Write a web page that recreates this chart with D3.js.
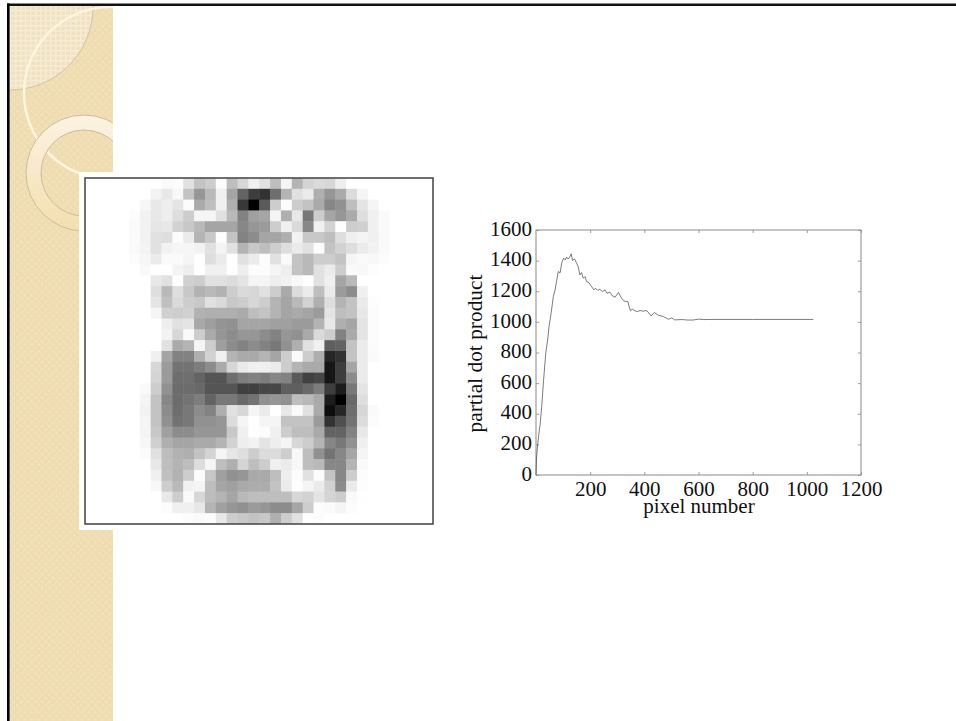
<!DOCTYPE html>
<html>
<head>
<meta charset="utf-8">
<script src="https://cdnjs.cloudflare.com/ajax/libs/d3/7.8.5/d3.min.js"></script>
<style>
html, body { margin: 0; padding: 0; background: #fff; overflow: hidden; }
svg { display: block; }
.plot text { font-family: "Liberation Serif", serif; fill: #111; }
</style>
</head>
<body>
<div id="slide"></div>
<script>
// Configuration
var width = 956, height = 721;

// Weight image, grey levels per row (0 = black, 255 = white)
var cells = [
[255,255,255,255,255,255,255,250,252,225,195,205,252,190,215,240,225,190,245,180,212,218,215,238,255,255,255,255,255,255,255,255],
[255,255,255,255,255,255,243,232,248,195,150,185,240,165,100,60,50,110,180,225,235,175,150,170,220,245,255,255,255,255,255,255],
[255,255,255,255,255,247,232,238,228,252,170,190,240,175,55,0,90,205,252,205,195,170,135,145,190,228,245,255,255,255,255,255],
[255,255,255,255,252,242,232,238,222,205,245,245,225,185,130,160,165,245,175,232,120,205,165,150,170,222,240,250,255,255,255,255],
[255,255,255,255,250,242,230,232,210,200,185,165,165,165,135,150,155,205,240,218,135,240,210,254,205,208,240,250,255,255,255,255],
[255,255,255,255,251,242,225,222,252,235,180,200,253,195,130,140,165,165,175,242,200,200,190,222,240,244,240,250,255,255,255,255],
[255,255,255,255,250,244,225,242,246,246,242,225,244,225,180,200,190,205,222,235,225,252,195,210,222,235,242,250,255,255,255,255],
[255,255,255,255,252,246,235,250,250,245,254,222,235,254,225,235,252,225,250,195,185,205,205,195,245,250,248,252,255,255,255,255],
[255,255,255,255,255,249,255,255,244,238,255,240,240,254,238,252,252,245,238,195,185,225,235,205,250,248,253,255,255,255,255,255],
[255,255,255,255,255,255,232,225,254,208,205,225,225,220,228,245,245,238,242,248,255,225,240,165,185,255,255,255,255,255,255,255],
[255,255,255,255,255,255,222,185,222,200,178,185,178,205,218,215,225,205,170,220,235,190,235,155,140,240,255,255,255,255,255,255],
[255,255,255,255,255,255,228,192,218,205,200,225,218,200,205,215,205,180,165,185,210,175,222,180,195,235,253,255,255,255,255,255],
[255,255,255,255,255,255,245,208,205,208,178,175,175,175,170,190,195,180,165,170,165,155,228,190,195,232,252,255,255,255,255,255],
[255,255,255,255,255,255,255,238,225,228,168,158,148,145,165,165,165,160,160,155,155,180,232,175,165,228,252,255,255,255,255,255],
[255,255,255,255,255,255,255,243,215,250,205,170,150,140,150,150,140,130,150,145,170,218,205,130,170,228,252,255,255,255,255,255],
[255,255,255,255,255,255,255,225,170,180,245,205,158,140,130,140,130,120,145,175,225,240,95,100,195,235,252,255,255,255,255,255],
[255,255,255,255,255,255,240,165,130,130,175,210,240,180,170,170,180,165,205,250,205,175,40,50,195,235,250,255,255,255,255,255],
[255,255,255,255,255,255,215,155,115,115,125,140,170,215,235,240,240,235,205,180,170,170,20,60,165,235,255,255,255,255,255,255],
[255,255,255,255,255,255,212,155,110,110,100,85,85,110,125,130,125,135,130,90,65,70,25,60,140,235,255,255,255,255,255,255],
[255,255,255,255,255,250,205,145,108,108,105,85,85,85,65,65,70,70,95,95,105,125,60,30,120,228,255,255,255,255,255,255],
[255,255,255,255,255,245,195,135,108,115,125,100,120,120,105,115,145,150,145,190,185,170,30,0,105,222,255,255,255,255,255,255],
[255,255,255,255,255,242,195,140,110,120,140,130,175,225,215,245,235,255,232,250,225,170,8,40,110,215,250,255,255,255,255,255],
[255,255,255,255,255,245,195,145,115,120,145,145,150,220,245,255,245,245,195,195,195,155,50,80,115,220,252,255,255,255,255,255],
[255,255,255,255,255,245,200,160,140,140,150,150,150,200,240,255,252,240,205,190,190,170,100,100,130,232,255,255,255,255,255,255],
[255,255,255,255,255,247,208,175,165,165,170,170,180,210,238,243,228,238,245,215,205,180,135,120,145,240,255,255,255,255,255,255],
[255,255,255,255,255,252,225,190,178,175,195,212,245,230,222,205,220,220,205,248,190,145,115,135,165,245,255,255,255,255,255,255],
[255,255,255,255,255,255,232,190,180,190,220,245,190,175,212,190,205,240,235,248,190,185,135,135,180,250,255,255,255,255,255,255],
[255,255,255,255,255,255,240,192,178,205,252,200,160,145,150,170,170,190,238,252,225,252,195,135,205,252,255,255,255,255,255,255],
[255,255,255,255,255,255,248,205,185,242,245,190,165,160,170,172,172,195,235,254,245,235,210,140,235,253,255,255,255,255,255,255],
[255,255,255,255,255,255,255,232,205,250,215,188,180,165,185,190,190,190,190,215,210,228,212,205,250,254,255,255,255,255,255,255],
[255,255,255,255,255,255,255,252,240,240,232,180,160,150,145,155,150,140,140,165,205,253,250,245,252,255,255,255,255,255,255,255],
[255,255,255,255,255,255,255,255,255,252,250,252,232,205,200,195,200,175,205,225,254,252,255,255,255,255,255,255,255,255,255,255]
];

// Partial dot product curve
var pixelNumber = [0,2,6,10,15,21,28,36,43,48,56,64,70,76,82,89,95,102,108,113,119,125,130,135,142,150,156,162,168,175,181,187,196,205,214,220,228,236,245,255,262,273,282,292,298,304,314,323,331,339,348,356,366,375,384,396,409,425,437,452,470,489,501,512,540,560,580,600,620,650,800,1024];
var dotProduct = [0,110,196,262,327,446,620,795,882,969,1060,1166,1205,1264,1329,1320,1384,1416,1405,1423,1410,1425,1444,1401,1412,1383,1360,1307,1322,1285,1296,1263,1255,1231,1209,1220,1205,1213,1198,1209,1187,1194,1170,1161,1176,1192,1161,1139,1133,1133,1074,1083,1072,1067,1074,1070,1074,1039,1061,1043,1035,1017,1026,1013,1015,1012,1012,1018,1015,1016,1016,1016];

var xTicks = [200,400,600,800,1000,1200];
var yTicks = [0,200,400,600,800,1000,1200,1400,1600];

var svg = d3.select("#slide").append("svg")
    .attr("width", width)
    .attr("height", height);
var defs = svg.append("defs");

drawBackground();
drawImage();
drawPlot();

/**
 * Slide template: tan side strip with circles and black edge lines
 */
function drawBackground() {
    var check = defs.append("pattern")
        .attr("id", "check")
        .attr("width", 5)
        .attr("height", 5)
        .attr("patternUnits", "userSpaceOnUse")
        .attr("patternTransform", "rotate(45)");
    check.append("rect").attr("width", 5).attr("height", 5).attr("fill", "#efdcb0");
    check.append("rect").attr("width", 2.5).attr("height", 2.5).attr("fill", "#f2e2bd");

    var grid = defs.append("pattern")
        .attr("id", "grid")
        .attr("width", 5)
        .attr("height", 5)
        .attr("patternUnits", "userSpaceOnUse");
    grid.append("rect").attr("width", 5).attr("height", 5).attr("fill", "#f0e1bf");
    grid.append("rect").attr("width", 5).attr("height", 1.5).attr("fill", "#f6ecd6");
    grid.append("rect").attr("width", 1.5).attr("height", 5).attr("fill", "#f6ecd6");

    var ringFill = defs.append("linearGradient")
        .attr("id", "ringFill")
        .attr("x1", 0).attr("y1", 0)
        .attr("x2", 0).attr("y2", 1);
    ringFill.append("stop").attr("offset", "0%").attr("stop-color", "#fbf3e2");
    ringFill.append("stop").attr("offset", "100%").attr("stop-color", "#f3dfae");

    defs.append("clipPath").attr("id", "strip")
        .append("rect")
        .attr("x", 9).attr("y", 6)
        .attr("width", 104).attr("height", height - 6);

    var strip = svg.append("g").attr("clip-path", "url(#strip)");
    strip.append("rect")
        .attr("x", 9).attr("y", 6)
        .attr("width", 104).attr("height", height - 6)
        .attr("fill", "url(#check)");
    strip.append("circle")
        .attr("cx", 10).attr("cy", 7).attr("r", 83)
        .attr("fill", "url(#grid)")
        .attr("stroke", "#d3c4a2")
        .attr("stroke-width", 1);
    strip.append("circle")
        .attr("cx", 110).attr("cy", 93).attr("r", 86)
        .attr("fill", "none")
        .attr("stroke", "#fdf6df")
        .attr("stroke-width", 2.5);
    var ring = d3.arc()
        .innerRadius(43)
        .outerRadius(58)
        .startAngle(0)
        .endAngle(2 * Math.PI);
    strip.append("path")
        .attr("d", ring())
        .attr("transform", "translate(84,173)")
        .attr("fill", "url(#ringFill)")
        .attr("stroke", "#cbbd9b")
        .attr("stroke-width", 1);

    svg.append("rect").attr("x", 7).attr("y", 3.5).attr("width", width - 7).attr("height", 2.5).attr("fill", "#111");
    svg.append("rect").attr("x", 7).attr("y", 3.5).attr("width", 2.6).attr("height", height - 3.5).attr("fill", "#000");
}

/**
 * Grey weight image inside a white mat and dark frame
 */
function drawImage() {
    var x0 = 85.5, x1 = 433, y0 = 178, y1 = 524;
    var idx = d3.range(32);
    var col = d3.scaleBand().domain(idx).range([x0, x1]);
    var row = d3.scaleBand().domain(idx).range([y0, y1]);
    var grey = d3.scaleLinear().domain([0, 255]).range(["#000000", "#ffffff"]);

    // The original is a scaled bitmap, so cell edges are a little soft
    defs.append("filter").attr("id", "soft")
        .append("feGaussianBlur")
        .attr("stdDeviation", 0.7);
    defs.append("clipPath").attr("id", "frameClip")
        .append("rect")
        .attr("x", x0).attr("y", y0)
        .attr("width", x1 - x0).attr("height", y1 - y0);

    svg.append("rect")
        .attr("x", 79).attr("y", 172)
        .attr("width", 360).attr("height", 358)
        .attr("fill", "#fff");

    var rowG = svg.append("g").attr("clip-path", "url(#frameClip)")
        .append("g").attr("id", "weights").attr("filter", "url(#soft)")
        .selectAll("g")
        .data(cells)
        .enter()
        .append("g");

    rowG.selectAll("rect")
        .data(function(d, i) {
            return d.map(function(v, j) { return {v: v, r: i, c: j}; });
        })
        .enter()
        .append("rect")
        .attr("x", function(d) { return col(d.c); })
        .attr("y", function(d) { return row(d.r); })
        .attr("width", col.bandwidth() + 0.5)
        .attr("height", row.bandwidth() + 0.5)
        .attr("fill", function(d) { return grey(d.v); });

    svg.append("rect")
        .attr("x", x0 - 0.5).attr("y", y0)
        .attr("width", x1 - x0 + 0.5).attr("height", y1 - y0)
        .attr("fill", "none")
        .attr("stroke", "#4d4d4d")
        .attr("stroke-width", 1.6);
}

/**
 * Line plot with inward ticks on all four sides
 */
function drawPlot() {
    var left = 536, right = 861, top = 230, bottom = 475;
    var x = d3.scaleLinear().domain([0, 1200]).range([left, right]);
    var y = d3.scaleLinear().domain([0, 1600]).range([bottom, top]);
    var plot = svg.append("g").attr("class", "plot");

    plot.append("rect")
        .attr("x", left).attr("y", top)
        .attr("width", right - left).attr("height", bottom - top)
        .attr("fill", "none")
        .attr("stroke", "#8a8a8a")
        .attr("stroke-width", 1);

    var xAxis = plot.append("g")
        .attr("transform", "translate(0," + bottom + ")")
        .call(d3.axisBottom(x).tickValues(xTicks).tickSize(-3).tickPadding(6).tickFormat(d3.format("d")));
    var yAxis = plot.append("g")
        .attr("transform", "translate(" + left + ",0)")
        .call(d3.axisLeft(y).tickValues(yTicks).tickSize(-3).tickPadding(4).tickFormat(d3.format("d")));
    plot.append("g")
        .attr("transform", "translate(0," + top + ")")
        .call(d3.axisTop(x).tickValues(xTicks).tickSize(-3).tickFormat(""));
    plot.append("g")
        .attr("transform", "translate(" + right + ",0)")
        .call(d3.axisRight(y).tickValues(yTicks).tickSize(-3).tickFormat(""));

    plot.selectAll(".domain").remove();
    plot.selectAll(".tick line").attr("stroke", "#9a9a9a");
    xAxis.selectAll("text").style("font-size", "21px").attr("font-family", null);
    yAxis.selectAll("text").style("font-size", "21px").attr("font-family", null).attr("y", -1.5);

    var line = d3.line()
        .x(function(d) { return x(d[0]); })
        .y(function(d) { return y(d[1]); });

    plot.append("path")
        .datum(d3.zip(pixelNumber, dotProduct))
        .attr("d", line)
        .attr("fill", "none")
        .attr("stroke", "#444")
        .attr("stroke-width", 0.7);

    plot.append("text")
        .attr("x", 699).attr("y", 513)
        .attr("text-anchor", "middle")
        .style("font-size", "21px")
        .text("pixel number");

    plot.append("text")
        .attr("transform", "translate(482,353.5) rotate(-90)")
        .attr("text-anchor", "middle")
        .style("font-size", "21.4px")
        .text("partial dot product");
}
</script>
</body>
</html>
